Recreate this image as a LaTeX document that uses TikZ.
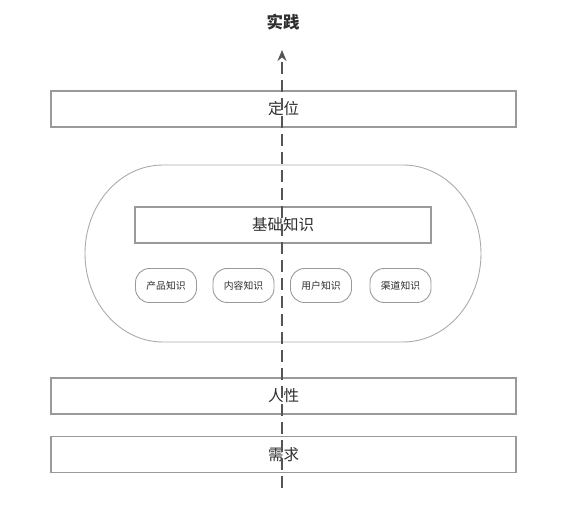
\documentclass[tikz,border=0pt]{standalone}
\usepackage{fontspec}
\usepackage{xcolor}
\newfontfamily\cjk{Noto Sans CJK SC}
\definecolor{boxgray}{HTML}{9A9A9A}
\definecolor{ovalgray}{HTML}{ABABAB}
\definecolor{linegray}{HTML}{555555}
\definecolor{textgray}{HTML}{2E2E2E}
\usetikzlibrary{arrows.meta}

\begin{document}
\begin{tikzpicture}[x=1pt,y=-1pt,>={Stealth[length=11pt,width=9pt]},semithick]
            \tikzstyle{bar}=[draw=boxgray,line width=1.2pt,fill=white,text=textgray,minimum width=465pt,minimum height=36pt,inner sep=0pt,font=\cjk\fontsize{15.5}{15.5}\selectfont]
            \tikzstyle{base}=[bar,minimum width=296pt]
            \tikzstyle{pill}=[draw=boxgray,line width=0.9pt,fill=white,text=textgray,rounded corners=14pt,minimum width=61pt,minimum height=34pt,inner sep=0pt,font=\cjk\fontsize{9.8}{9.8}\selectfont]
            \tikzstyle{axisline}=[draw=linegray,line width=2pt,dash pattern=on 12pt off 6pt]

            \useasboundingbox (0,0) rectangle (565,510);

            \node[font=\cjk\bfseries\fontsize{16.5}{16.5}\selectfont,text=textgray] (sj) at (283,22) {实践};
            \node[bar]  (dw) at (283.5,109)   {定位};

            % the oval round the knowledge
            \draw[ovalgray,line width=0.9pt] (163,165) -- (403,165)
                arc[start angle=-90,end angle=90,x radius=78,y radius=88.5]
                -- (163,342)
                arc[start angle=90,end angle=270,x radius=78,y radius=88.5];

            \node[base] (jc) at (283,225)    {基础知识};
            \node[pill] (cp) at (166,285.5)  {产品知识};
            \node[pill] (nr) at (243.5,285.5) {内容知识};
            \node[pill] (yh) at (321,285.5)  {用户知识};
            \node[pill] (qd) at (400.5,285.5) {渠道知识};

            \node[bar]  (rx) at (283.5,396)   {人性};
            \node[bar]  (xq) at (283.5,454.5) {需求};

            \coordinate (start) at (282,488);
            \coordinate (tip)   at (282,50);
            \draw[axisline,->] (start) -- (tip);

        \end{tikzpicture}
\end{document}
